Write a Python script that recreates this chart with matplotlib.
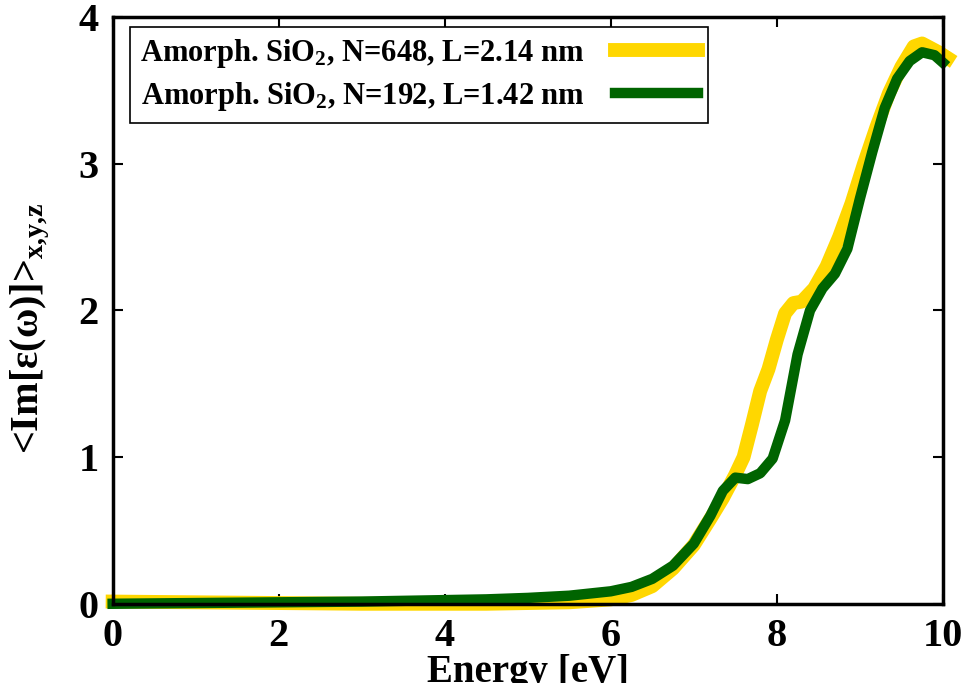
import numpy as np
import matplotlib
matplotlib.use('Agg')
import matplotlib.pyplot as plt

plt.rcParams['font.family'] = ['Liberation Serif', 'DejaVu Serif']
plt.rcParams['font.weight'] = 'bold'
plt.rcParams['mathtext.fontset'] = 'custom'
plt.rcParams['mathtext.rm'] = 'Liberation Serif:bold'
plt.rcParams['mathtext.bf'] = 'Liberation Serif:bold'
plt.rcParams['mathtext.it'] = 'Liberation Serif:bold'

# N=648 (yellow)
x648 = [0, 1, 2, 3, 4, 4.5, 5, 5.5, 6, 6.25, 6.5, 6.75, 7.0, 7.2, 7.35, 7.5, 7.6, 7.7,
        7.8, 7.9, 8.0, 8.1, 8.2, 8.3, 8.45, 8.6, 8.75, 8.9, 9.05, 9.2, 9.35, 9.5, 9.65,
        9.75, 9.85, 9.95, 10.06]
y648 = [0.015, 0.01, 0.005, 0.0, 0.0, 0.0, 0.005, 0.01, 0.03, 0.06, 0.12, 0.24, 0.4,
        0.58, 0.72, 0.88, 1.0, 1.22, 1.45, 1.6, 1.8, 1.98, 2.05, 2.06, 2.15, 2.3, 2.5,
        2.73, 3.0, 3.25, 3.48, 3.66, 3.8, 3.82, 3.79, 3.76, 3.72]

# N=192 (green)
x192 = [0, 1, 2, 3, 4, 4.5, 5, 5.5, 6, 6.25, 6.5, 6.75, 7.0, 7.2, 7.35, 7.5, 7.65, 7.8,
        7.95, 8.1, 8.25, 8.4, 8.55, 8.7, 8.85, 9.0, 9.15, 9.3, 9.45, 9.6, 9.75, 9.9, 10.0]
y192 = [0.0, 0.005, 0.01, 0.015, 0.025, 0.03, 0.04, 0.055, 0.085, 0.115, 0.17, 0.26,
        0.41, 0.6, 0.77, 0.86, 0.85, 0.89, 0.99, 1.25, 1.7, 2.0, 2.15, 2.25, 2.42, 2.76,
        3.08, 3.38, 3.58, 3.7, 3.76, 3.74, 3.69]

fig = plt.figure(figsize=(9.71, 6.83), dpi=100)
ax = fig.add_axes([0.116, 0.116, 0.855, 0.859])

ax.plot(x648, y648, color='#FFD700', lw=10, clip_on=False,
        label=r'Amorph. SiO$_\mathrm{2}$, N=648, L=2.14 nm')
ax.plot(x192, y192, color='#006400', lw=7.5, clip_on=False,
        label=r'Amorph. SiO$_\mathrm{2}$, N=192, L=1.42 nm')

ax.set_xlim(0, 10)
ax.set_ylim(0, 4)
ax.set_xticks(np.arange(0, 11, 2))
ax.set_yticks(np.arange(0, 5, 1))
ax.tick_params(direction='in', top=True, right=True, length=7, width=1.5,
               labelsize=29, pad=10)
for s in ax.spines.values():
    s.set_linewidth(2.5)

ax.set_xlabel('Energy [eV]', fontsize=28, fontweight='bold')
ax.xaxis.set_label_coords(0.5, -0.085)
ax.set_ylabel(r'<Im[ε(ω)]>$_\mathrm{x{,}y{,}z}$', fontsize=29, fontweight='bold')
ax.yaxis.set_label_coords(-0.073, 0.47)

leg = ax.legend(loc='upper left', bbox_to_anchor=(0.021, 0.983), fontsize=22,
                fancybox=False, edgecolor='black', framealpha=1, handlelength=2.7,
                markerfirst=False, borderpad=0.33, labelspacing=0.32, handletextpad=1.0,
                borderaxespad=0)
leg.get_frame().set_linewidth(1.2)
for t in leg.get_texts():
    t.set_fontweight('bold')

fig.savefig('out.png', dpi=100)
